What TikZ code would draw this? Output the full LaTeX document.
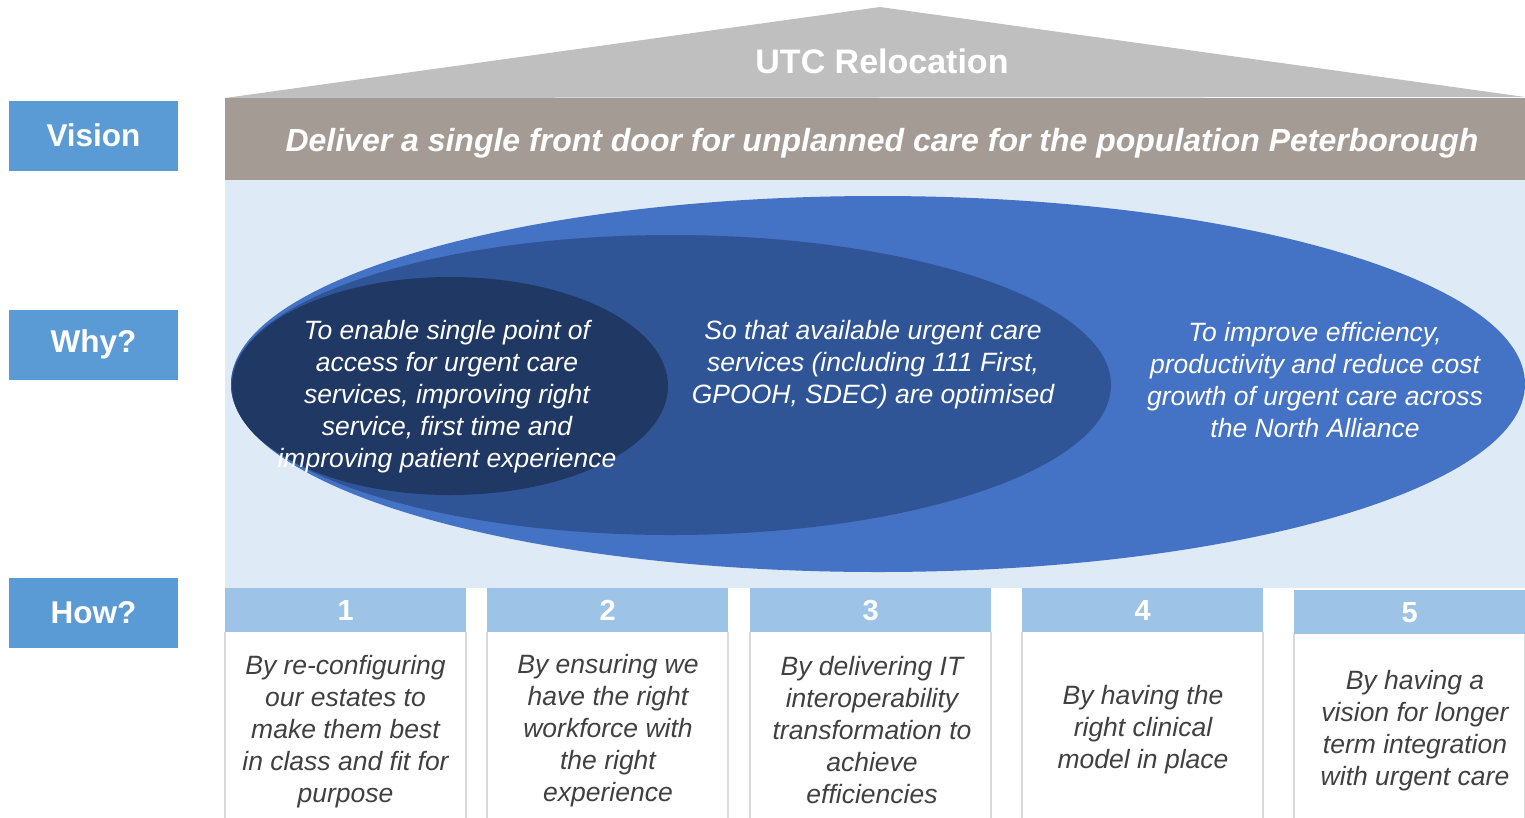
\documentclass[tikz,border=0pt]{standalone}
\usepackage{fontspec}
\setmainfont{Liberation Sans}
\definecolor{lblblue}{HTML}{5B9BD5}
\definecolor{roofgray}{HTML}{BFBFBF}
\definecolor{bandbrown}{HTML}{A49B94}
\definecolor{bglight}{HTML}{DEEAF6}
\definecolor{ellouter}{HTML}{4472C4}
\definecolor{ellmid}{HTML}{2F5597}
\definecolor{ellinner}{HTML}{203864}
\definecolor{hdrblue}{HTML}{9DC3E6}
\definecolor{txtgray}{HTML}{404040}
\definecolor{boxline}{HTML}{D9D9D9}
\tikzset{
  sidelabel/.style={fill=lblblue, minimum width=169pt, minimum height=70pt, inner sep=0pt,
    text=white, font=\bfseries\fontsize{31.5}{36}\selectfont},
  elltext/.style={text=white, align=center, inner sep=0pt, font=\itshape\fontsize{26.5}{32}\selectfont},
  hdr/.style={fill=hdrblue, minimum height=44pt, inner sep=0pt, text=white,
    font=\bfseries\fontsize{29}{32}\selectfont},
  howtext/.style={text=txtgray, align=center, inner sep=0pt, font=\itshape\fontsize{26.5}{32}\selectfont},
  boxedge/.style={draw=boxline, line width=1.5pt}
}
\begin{document}
\begin{tikzpicture}[x=1pt,y=-1pt]
\useasboundingbox (0,0) rectangle (1525,817);
% side labels
\node[sidelabel] (vision) at (93.5,135.5) {Vision};
\node[sidelabel] (why) at (93.5,344.5) {Why?};
\node[sidelabel] (how) at (93.5,613) {How?};
% roof
\fill[roofgray] (225,98) -- (880,7) -- (1525,97) -- cycle;
\node[text=white, font=\bfseries\fontsize{34}{38}\selectfont] (utc) at (882,61) {UTC Relocation};
% vision band
\fill[bandbrown] (225,98) rectangle (1525,180);
\node[text=white, font=\bfseries\itshape\fontsize{32}{36}\selectfont] (visiontext) at (882,143) {Deliver a single front door for unplanned care for the population Peterborough};
% why background
\fill[bglight] (225,180) rectangle (1525,588);
% ellipses
\fill[ellouter] (878,384) ellipse [x radius=647pt, y radius=188pt];
\fill[ellmid] (671,385) ellipse [x radius=440pt, y radius=150pt];
\fill[ellinner] (450,386) ellipse [x radius=218pt, y radius=109pt];
\node[elltext] (why1) at (447,397) {To enable single point of\\access for urgent care\\services, improving right\\service, first time and\\improving patient experience};
\node[elltext] (why2) at (873,365) {So that available urgent care\\services (including 111 First,\\GPOOH, SDEC) are optimised};
\node[elltext] (why3) at (1315,380) {To improve efficiency,\\productivity and reduce cost\\growth of urgent care across\\the North Alliance};
% how boxes
\foreach \n/\xa/\xb/\yt in {1/225/466/588, 2/487/728/588, 3/750/991/588, 4/1022/1263/588, 5/1294/1525/590}{
  \draw[boxedge] (\xa,\yt+44) -- (\xa,820) (\xb,\yt+44) -- (\xb,820);
  \node[hdr, minimum width={(\xb-\xa)*1pt}, anchor=north west] (h\n) at (\xa,\yt) {\n};
}
\node[howtext] (how1) at (345.5,732) {By re-configuring\\our estates to\\make them best\\in class and fit for\\purpose};
\node[howtext] (how2) at (608,731) {By ensuring we\\have the right\\workforce with\\the right\\experience};
\node[howtext] (how3) at (872,730) {By delivering IT\\interoperability\\transformation to\\achieve\\efficiencies};
\node[howtext] (how4) at (1143,730) {By having the\\right clinical\\model in place};
\node[howtext] (how5) at (1415,731) {By having a\\vision for longer\\term integration\\with urgent care};
\end{tikzpicture}
\end{document}
